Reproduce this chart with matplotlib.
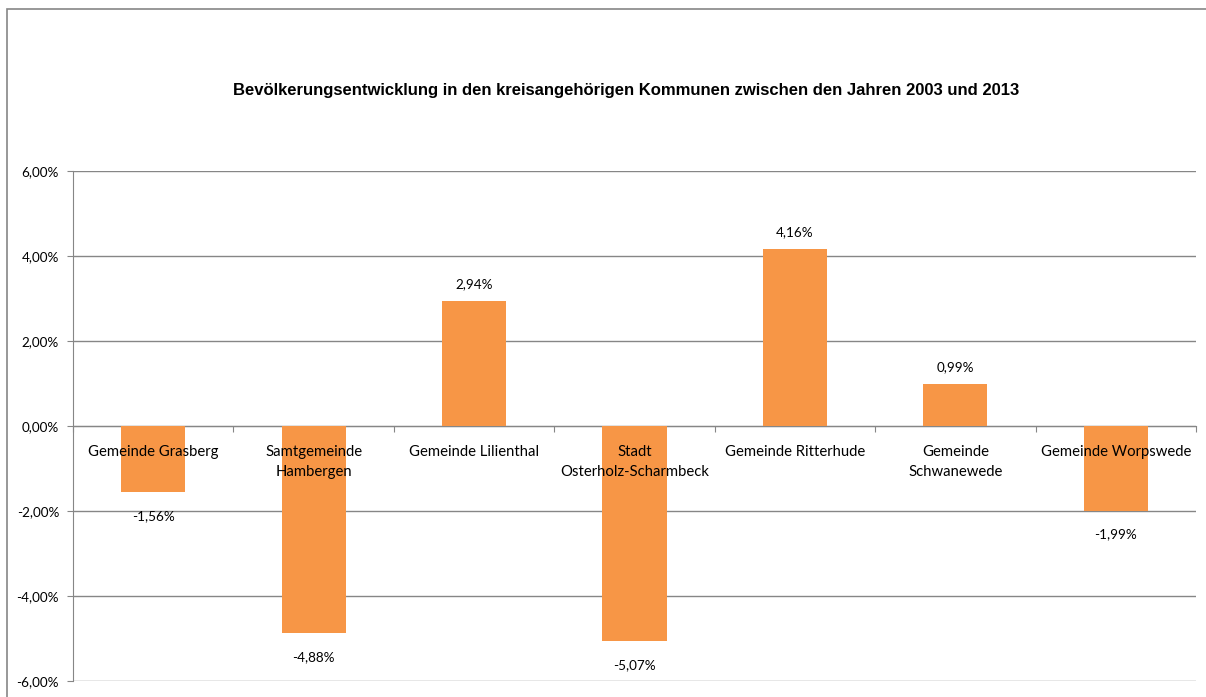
import matplotlib
matplotlib.use("Agg")
import matplotlib.pyplot as plt
from matplotlib.patches import Rectangle
import numpy as np

categories = ["Gemeinde Grasberg", "Samtgemeinde\nHambergen", "Gemeinde Lilienthal",
              "Stadt\nOsterholz-Scharmbeck", "Gemeinde Ritterhude", "Gemeinde\nSchwanewede",
              "Gemeinde Worpswede"]
values = [-1.56, -4.88, 2.94, -5.07, 4.16, 0.99, -1.99]
yticks = [-6, -4, -2, 0, 2, 4, 6]
title = "Bevölkerungsentwicklung in den kreisangehörigen Kommunen zwischen den Jahren 2003 und 2013"

def pct(v):
    return f"{v:.2f}".replace(".", ",") + "%"

label_font = "Lato"
fig = plt.figure(figsize=(12.06, 6.97), dpi=100)
ax = fig.add_axes([73/1206, 1-681/697, (1196-73)/1206, (681-171)/697])

x = np.arange(len(categories))
ax.bar(x, values, width=0.4, color="#F79646", zorder=2)
ax.set_xlim(-0.5, len(categories)-0.5)
ax.set_ylim(-6, 6)
ax.set_yticks(yticks)
ax.set_yticklabels([pct(v) for v in yticks], fontsize=9.7, family=label_font)
ax.tick_params(axis="y", length=4, color="#868686", pad=6)
ax.yaxis.grid(True, color="#868686", linewidth=1, zorder=0)
ax.set_axisbelow(True)
for s in ["top", "right"]:
    ax.spines[s].set_visible(False)
ax.spines["left"].set_color("#868686")
ax.spines["bottom"].set_position(("data", 0))
ax.spines["bottom"].set_color("#868686")
ax.spines["bottom"].set_zorder(1)
ax.set_xticks(np.arange(-0.5, len(categories), 1.0))
ax.set_xticklabels([])
ax.tick_params(axis="x", length=4, color="#868686", direction="out")

for xi, (c, v) in enumerate(zip(categories, values)):
    ax.annotate(c, (xi, 0), xytext=(0, -14), textcoords="offset points",
                ha="center", va="top", fontsize=10.7, family=label_font,
                linespacing=1.55, zorder=3, color="#000000")
    if v >= 0:
        ax.annotate(pct(v), (xi, v), xytext=(0, 8), textcoords="offset points",
                    ha="center", va="bottom", fontsize=9.7, family=label_font, zorder=3)
    else:
        ax.annotate(pct(v), (xi, v), xytext=(0, -13), textcoords="offset points",
                    ha="center", va="top", fontsize=9.7, family=label_font, zorder=3)

fig.text(626/1206, 1-90/697, title, ha="center", va="center", fontsize=12,
         fontweight="bold", family="Liberation Sans")

fig.patches.append(Rectangle((7/1206, -0.1), 1.2, 1-9/697+0.1, transform=fig.transFigure,
                             fill=False, edgecolor="#868686", linewidth=1.2))

fig.savefig("out.png", dpi=100)
